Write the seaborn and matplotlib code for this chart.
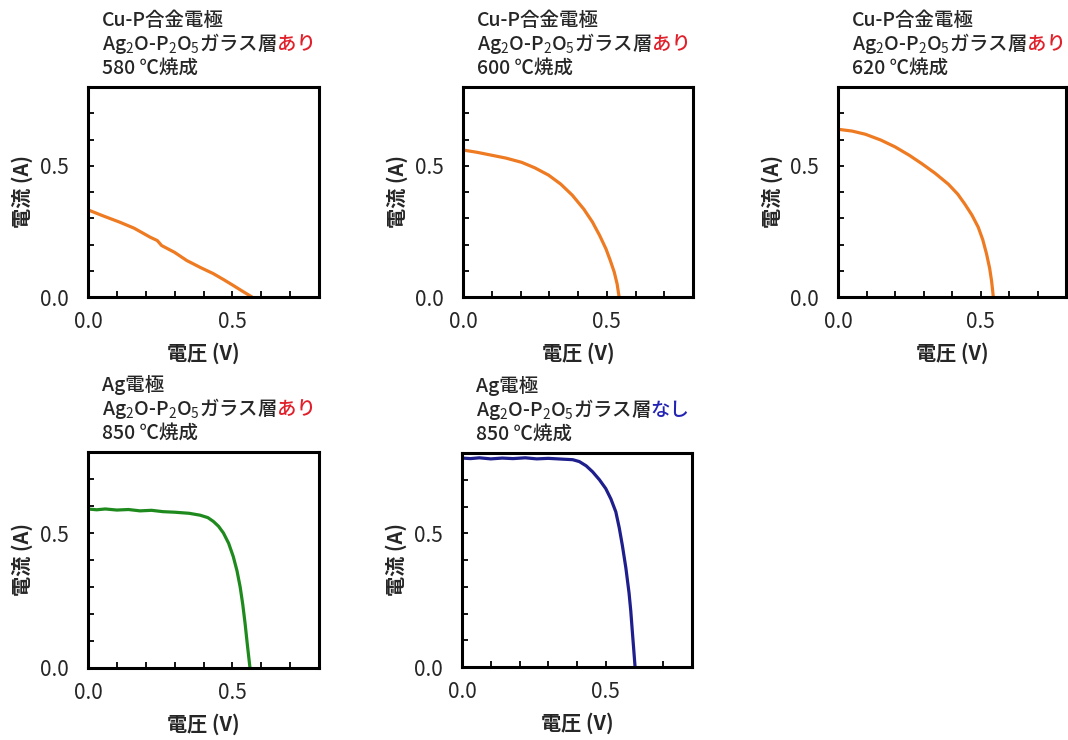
import pandas as pd
import matplotlib
matplotlib.use("Agg")
import matplotlib.pyplot as plt
from matplotlib.text import Annotation
import seaborn as sns

# ---- measured I-V curves (voltage in V, current in A) ----
v_580 = [0.000, 0.050, 0.110, 0.160, 0.215, 0.240, 0.255, 0.300, 0.342, 0.390, 0.434, 0.470, 0.503, 0.535, 0.568]
i_580 = [0.332, 0.310, 0.285, 0.262, 0.228, 0.215, 0.196, 0.170, 0.139, 0.112, 0.089, 0.066, 0.044, 0.022, 0.000]

v_600 = [0.000, 0.050, 0.100, 0.150, 0.204, 0.250, 0.298, 0.340, 0.380, 0.420, 0.450, 0.475, 0.497, 0.512, 0.526, 0.536, 0.543]
i_600 = [0.560, 0.551, 0.540, 0.529, 0.513, 0.492, 0.464, 0.430, 0.388, 0.335, 0.286, 0.235, 0.184, 0.140, 0.095, 0.050, 0.000]

v_620 = [0.000, 0.050, 0.096, 0.150, 0.200, 0.250, 0.294, 0.340, 0.387, 0.420, 0.445, 0.470, 0.492, 0.508, 0.521, 0.532, 0.539, 0.545]
i_620 = [0.639, 0.632, 0.620, 0.598, 0.572, 0.540, 0.508, 0.472, 0.430, 0.392, 0.354, 0.312, 0.266, 0.218, 0.165, 0.110, 0.060, 0.000]

v_ag_glass = [0.000, 0.030, 0.060, 0.100, 0.140, 0.180, 0.220, 0.260, 0.300, 0.350, 0.388, 0.415, 0.434, 0.452, 0.469, 0.487, 0.503, 0.516, 0.527, 0.536, 0.544, 0.552, 0.561]
i_ag_glass = [0.589, 0.586, 0.589, 0.585, 0.587, 0.582, 0.584, 0.579, 0.577, 0.573, 0.566, 0.557, 0.543, 0.525, 0.500, 0.462, 0.413, 0.360, 0.300, 0.235, 0.165, 0.085, 0.000]

v_ag_bare = [0.000, 0.030, 0.060, 0.100, 0.140, 0.177, 0.220, 0.260, 0.300, 0.350, 0.385, 0.408, 0.432, 0.454, 0.478, 0.500, 0.518, 0.535, 0.547, 0.558, 0.570, 0.581, 0.587, 0.592, 0.597, 0.602]
i_ag_bare = [0.781, 0.779, 0.782, 0.778, 0.781, 0.779, 0.782, 0.778, 0.780, 0.777, 0.775, 0.768, 0.752, 0.730, 0.700, 0.667, 0.628, 0.580, 0.520, 0.453, 0.370, 0.277, 0.210, 0.139, 0.070, 0.000]

# ---- panel annotations ----
electrodes = ["Cu-P合金電極", "Cu-P合金電極", "Cu-P合金電極", "Ag電極", "Ag電極"]
glass_state = ["あり", "あり", "あり", "あり", "なし"]
firing = ["580 ℃焼成", "600 ℃焼成", "620 ℃焼成", "850 ℃焼成", "850 ℃焼成"]
x_label = "電圧 (V)"
y_label = "電流 (A)"
tick_values = [0.0, 0.1, 0.2, 0.3, 0.4, 0.5, 0.6, 0.7, 0.8]
tick_labels = ["0.0", "", "", "", "", "0.5", "", "", ""]

curves = [(v_580, i_580), (v_600, i_600), (v_620, i_620),
          (v_ag_glass, i_ag_glass), (v_ag_bare, i_ag_bare)]
line_colors = ["#EE7A22", "#EE7A22", "#EE7A22", "#1E8A1E", "#1E1E8C"]
state_colors = {"あり": "#E0202A", "なし": "#2323B4"}

sns.set_theme(style="white")
cjk = "Noto Sans CJK JP"
plt.rcParams["font.family"] = [cjk, "DejaVu Sans"]
plt.rcParams["mathtext.fontset"] = "custom"
plt.rcParams["mathtext.rm"] = cjk
plt.rcParams["mathtext.it"] = cjk
plt.rcParams["mathtext.bf"] = cjk

W, H = 1068, 740
fig = plt.figure(figsize=(W / 100, H / 100), dpi=100)
fig.patch.set_facecolor("white")

# axes boxes in pixels: left, right, top, bottom
boxes = [(88, 319, 87, 297), (463, 693, 87, 297), (838, 1066, 87, 297),
         (88, 319, 452, 668), (462, 692, 453, 667)]


def fx(px):
    return px / W


def fy(py):
    return 1 - py / H


title_size = 14
for k, ((l, r, t, b), (vv, ii)) in enumerate(zip(boxes, curves)):
    ax = fig.add_axes([fx(l), fy(b), fx(r) - fx(l), fy(t) - fy(b)])
    df = pd.DataFrame({"V": vv, "I": ii})
    sns.lineplot(data=df, x="V", y="I", ax=ax, color=line_colors[k],
                 linewidth=2.3, sort=False, estimator=None)
    ax.set_xlim(0, 0.8)
    ax.set_ylim(0, 0.8)
    ax.set_xticks(tick_values)
    ax.set_xticklabels(tick_labels, fontsize=15)
    ax.set_yticks(tick_values)
    ax.set_yticklabels(tick_labels, fontsize=15)
    ax.tick_params(axis="x", direction="in", length=4, width=1.3, color="black",
                   pad=10, bottom=True)
    ax.tick_params(axis="y", direction="in", length=4, width=1.3, color="black",
                   pad=14, left=True)
    for sp in ax.spines.values():
        sp.set_visible(True)
        sp.set_color("black")
        sp.set_linewidth(2.2)
    ax.set_facecolor("white")
    ax.grid(False)
    ax.set_xlabel(x_label, fontsize=14.5, fontweight="bold")
    ax.set_ylabel(y_label, fontsize=14.5, fontweight="bold")
    ax.xaxis.set_label_coords(0.5, -56 / (b - t))
    ax.xaxis.label.set_verticalalignment("center")
    ax.yaxis.set_label_coords(-66 / (r - l), 0.5)
    ax.yaxis.label.set_verticalalignment("center")

    # three-line heading above the panel
    tx = fx(l + 14)
    fig.text(tx, fy(t - 61), electrodes[k], fontsize=title_size,
             fontweight="medium", va="baseline", ha="left")
    base = fy(t - 37)
    head = fig.text(tx, base, r"Ag$_2$O-P$_2$O$_5$ガラス層", fontsize=title_size,
                    fontweight="medium", va="baseline", ha="left")
    fig.add_artist(Annotation(
        glass_state[k], xy=(1, base), xycoords=(head, fig.transFigure),
        fontsize=title_size, fontweight="medium", va="baseline", ha="left",
        color=state_colors[glass_state[k]]))
    fig.text(tx, fy(t - 13), firing[k], fontsize=title_size,
             fontweight="medium", va="baseline", ha="left")

fig.savefig("out.png", dpi=100, facecolor="white")
